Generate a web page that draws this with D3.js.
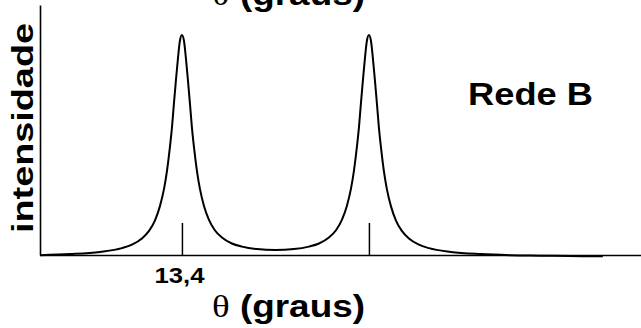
<!DOCTYPE html>
<html>
<head>
<meta charset="utf-8">
<script src="https://cdn.jsdelivr.net/npm/d3@7"></script>
<style>
  body { margin: 0; background: #fff; }
  svg { display: block; font-family: "Liberation Sans", Arial, sans-serif; font-weight: bold; }
</style>
</head>
<body>
<svg id="chart" width="641" height="328"></svg>
<script>
// theta (degrees) and relative intensity
const theta = [
  12.641, 12.801, 12.962, 13.079, 13.133, 13.186, 13.224, 13.256, 13.282, 13.304,
  13.320, 13.336, 13.347, 13.357, 13.368, 13.379, 13.389, 13.400, 13.411, 13.421,
  13.432, 13.443, 13.453, 13.464, 13.480, 13.496, 13.518, 13.544, 13.576, 13.614,
  13.667, 13.721, 13.801, 13.900, 13.999, 14.079, 14.133, 14.186, 14.224, 14.256,
  14.282, 14.304, 14.320, 14.336, 14.347, 14.357, 14.368, 14.379, 14.389, 14.400,
  14.411, 14.421, 14.432, 14.443, 14.453, 14.464, 14.480, 14.496, 14.518, 14.544,
  14.576, 14.614, 14.667, 14.721, 14.838, 14.999, 15.159, 15.314, 15.475, 15.651,
];
const intensity = [
  0.008, 0.013, 0.023, 0.040, 0.056, 0.084, 0.118, 0.166, 0.229, 0.307,
  0.389, 0.499, 0.589, 0.692, 0.800, 0.901, 0.977, 1.004, 0.977, 0.902,
  0.801, 0.693, 0.590, 0.500, 0.391, 0.309, 0.231, 0.169, 0.121, 0.088,
  0.061, 0.047, 0.036, 0.032, 0.036, 0.047, 0.061, 0.088, 0.121, 0.169,
  0.231, 0.309, 0.391, 0.500, 0.590, 0.693, 0.801, 0.902, 0.977, 1.004,
  0.977, 0.901, 0.800, 0.692, 0.589, 0.499, 0.389, 0.307, 0.229, 0.166,
  0.118, 0.084, 0.056, 0.040, 0.023, 0.013, 0.008, 0.006, 0.004, 0.003,
];
const peakTicks = [13.4, 14.4];
const tickLabels = ["13,4", ""];
const xDomain = [12.641, 15.855];
const yDomain = [0.009, 1.14];

const svg = d3.select("#chart");

const x = d3.scaleLinear().domain(xDomain).range([40, 641]);
const y = d3.scaleLinear().domain(yDomain).range([255, 5]);

// left axis: plain line, no ticks
svg.append("g")
  .attr("transform", "translate(40,0)")
  .call(d3.axisLeft(y).tickValues([]).tickSizeOuter(0))
  .call((g) => g.select(".domain").attr("stroke-width", 1.6));

// bottom axis with peak markers pointing up
const xAxis = d3.axisBottom(x)
  .tickValues(peakTicks)
  .tickSizeInner(-32)
  .tickSizeOuter(0)
  .tickFormat((d, i) => tickLabels[i]);

svg.append("g")
  .attr("transform", "translate(0,255)")
  .attr("font-family", null)
  .attr("font-size", null)
  .call(xAxis)
  .call((g) => g.attr("font-family", null).attr("font-size", null))
  .call((g) => g.select(".domain").attr("stroke-width", 1.6))
  .call((g) => g.selectAll(".tick line").attr("stroke-width", 1.5))
  .call((g) =>
    g.selectAll(".tick text")
      .attr("y", 28)
      .attr("dy", null)
      .attr("x", -3)
      .attr("font-size", 22)
      .each(function () {
        if (this.textContent) {
          this.setAttribute("textLength", 50);
          this.setAttribute("lengthAdjust", "spacingAndGlyphs");
        }
      }),
  );

// the curve
const points = theta.map((t, i) => [t, intensity[i]]);
const line = d3.line()
  .x((d) => x(d[0]))
  .y((d) => y(d[1]))
  .curve(d3.curveMonotoneX);

svg.append("path")
  .datum(points)
  .attr("fill", "none")
  .attr("stroke", "#000")
  .attr("stroke-width", 2)
  .attr("d", line);

// axis titles
function thetaTitle(baseline) {
  const t = svg.append("text")
    .attr("x", 212)
    .attr("y", baseline)
    .attr("font-size", 32)
    .attr("textLength", 153)
    .attr("lengthAdjust", "spacingAndGlyphs");
  t.append("tspan")
    .attr("font-family", "'Liberation Serif', 'Times New Roman', serif")
    .attr("font-weight", "normal")
    .text("θ");
  t.append("tspan").text(" (graus)");
}
thetaTitle(317);
thetaTitle(5);

svg.append("text")
  .attr("transform", "translate(33,128) rotate(-90)")
  .attr("text-anchor", "middle")
  .attr("font-size", 29)
  .attr("textLength", 210)
  .attr("lengthAdjust", "spacingAndGlyphs")
  .text("intensidade");

svg.append("text")
  .attr("x", 468)
  .attr("y", 105)
  .attr("font-size", 32)
  .attr("textLength", 125)
  .attr("lengthAdjust", "spacingAndGlyphs")
  .text("Rede B");
</script>
</body>
</html>
